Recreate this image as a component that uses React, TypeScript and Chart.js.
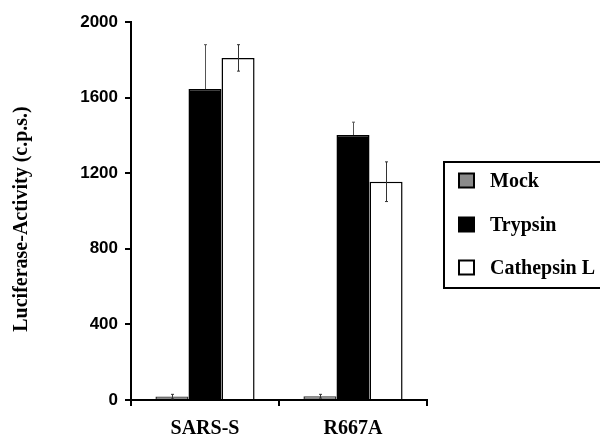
import React, { useEffect, useRef } from "react";
import { Chart, registerables } from "chart.js";

Chart.register(...registerables);

const categories = ["SARS-S", "R667A"];
const seriesNames = ["Mock", "Trypsin", "Cathepsin L"];
const mockValues = [18, 20];
const mockErrors = [12, 10];
const trypsinValues = [1645, 1402];
const trypsinErrors = [235, 68];
const cathepsinValues = [1810, 1155];
const cathepsinErrors = [70, 105];
const yTicks = [0, 400, 800, 1200, 1600, 2000];
const yTitle = "Luciferase-Activity (c.p.s.)";

const fillColors = ["#8a8a8a", "#000000", "#ffffff"];
const borderColors = ["#333333", "#000000", "#000000"];

const errorBarPlugin = {
  id: "errorBars",
  afterDatasetsDraw(chart: any) {
    const ctx = chart.ctx;
    const yScale = chart.scales.y;
    chart.data.datasets.forEach((ds: any, di: number) => {
      const meta = chart.getDatasetMeta(di);
      meta.data.forEach((bar: any, i: number) => {
        const v = ds.data[i];
        const e = ds.errors[i];
        const yTop = yScale.getPixelForValue(v + e);
        const yBot = yScale.getPixelForValue(v - e);
        const x = Math.round(bar.x) + 0.5;
        ctx.save();
        ctx.strokeStyle = di === 1 ? "#555555" : "#333333";
        ctx.lineWidth = 1;
        ctx.beginPath();
        ctx.moveTo(x, yTop);
        ctx.lineTo(x, di === 1 ? bar.y : yBot);
        ctx.moveTo(x - 1.5, yTop);
        ctx.lineTo(x + 1.5, yTop);
        if (di !== 1) {
          ctx.moveTo(x - 1.5, yBot);
          ctx.lineTo(x + 1.5, yBot);
        }
        ctx.stroke();
        ctx.restore();
      });
    });
  },
};

const decorPlugin = {
  id: "decor",
  afterDraw(chart: any) {
    const ctx = chart.ctx;
    const area = chart.chartArea;
    ctx.save();
    // y-axis title
    ctx.translate(22, (area.top + area.bottom) / 2 + 8);
    ctx.rotate(-Math.PI / 2);
    ctx.fillStyle = "#000";
    ctx.font = "bold 20px 'Liberation Serif', 'Times New Roman', serif";
    ctx.textAlign = "center";
    ctx.textBaseline = "middle";
    ctx.fillText(yTitle, 0, 0);
    ctx.restore();

    // legend
    ctx.save();
    const lx = 444, ly = 162, lw = 170, lh = 126;
    ctx.strokeStyle = "#000";
    ctx.lineWidth = 2;
    ctx.strokeRect(lx, ly, lw, lh);
    const rows = [180.5, 224.5, 267.5];
    ctx.font = "bold 20px 'Liberation Serif', 'Times New Roman', serif";
    ctx.textBaseline = "middle";
    ctx.textAlign = "left";
    seriesNames.forEach((name, i) => {
      const cy = rows[i];
      ctx.fillStyle = fillColors[i];
      ctx.fillRect(459, cy - 7, 15, 14);
      ctx.strokeStyle = "#000";
      ctx.lineWidth = 2;
      ctx.strokeRect(459, cy - 7, 15, 14);
      ctx.fillStyle = "#000";
      ctx.fillText(name, 490, cy + 1);
    });
    ctx.restore();
  },
};

export default function App() {
  const ref = useRef<HTMLCanvasElement | null>(null);
  useEffect(() => {
    if (!ref.current) return;
    const values = [mockValues, trypsinValues, cathepsinValues];
    const errors = [mockErrors, trypsinErrors, cathepsinErrors];
    const chart = new Chart(ref.current, {
      type: "bar",
      data: {
        labels: categories,
        datasets: seriesNames.map((name, i) => ({
          label: name,
          data: values[i],
          errors: errors[i],
          backgroundColor: fillColors[i],
          borderColor: borderColors[i],
          borderWidth: 1.5,
          borderSkipped: "bottom",
          barPercentage: 1,
          categoryPercentage: 0.67,
        })) as any,
      },
      options: {
        animation: false,
        responsive: false,
        maintainAspectRatio: false,
        devicePixelRatio: 1,
        layout: { padding: { left: 0, right: 173, top: 22, bottom: 0 } },
        plugins: {
          legend: { display: false },
          tooltip: { enabled: false },
          title: { display: false },
        },
        scales: {
          x: {
            type: "category",
            offset: true,
            afterFit: (s: any) => {
              s.height = 37;
            },
            grid: {
              display: true,
              drawOnChartArea: false,
              drawTicks: true,
              tickLength: 6,
              offset: true,
              color: "#000",
              lineWidth: 2,
            },
            border: { display: true, color: "#000", width: 2 },
            ticks: {
              color: "#000",
              padding: 11,
              font: { family: "'Liberation Serif', 'Times New Roman', serif", size: 20, weight: "bold" },
            },
          },
          y: {
            min: 0,
            max: 2000,
            afterFit: (s: any) => {
              s.width = 131;
            },
            afterBuildTicks: (s: any) => {
              s.ticks = yTicks.map((v) => ({ value: v }));
            },
            grid: {
              display: true,
              drawOnChartArea: false,
              drawTicks: true,
              tickLength: 6,
              color: "#000",
              lineWidth: 2,
            },
            border: { display: true, color: "#000", width: 2 },
            ticks: {
              color: "#000",
              padding: 7,
              callback: (v: any) => String(v),
              font: { family: "'Liberation Sans', Arial, sans-serif", size: 17, weight: "bold" },
            },
          },
        },
      },
      plugins: [errorBarPlugin, decorPlugin],
    });
    return () => chart.destroy();
  }, []);
  return (
    <div style={{ position: "fixed", left: 0, top: 0, width: 600, height: 437, background: "#fff" }}>
      <canvas ref={ref} width={600} height={437} style={{ width: 600, height: 437, display: "block" }} />
    </div>
  );
}
